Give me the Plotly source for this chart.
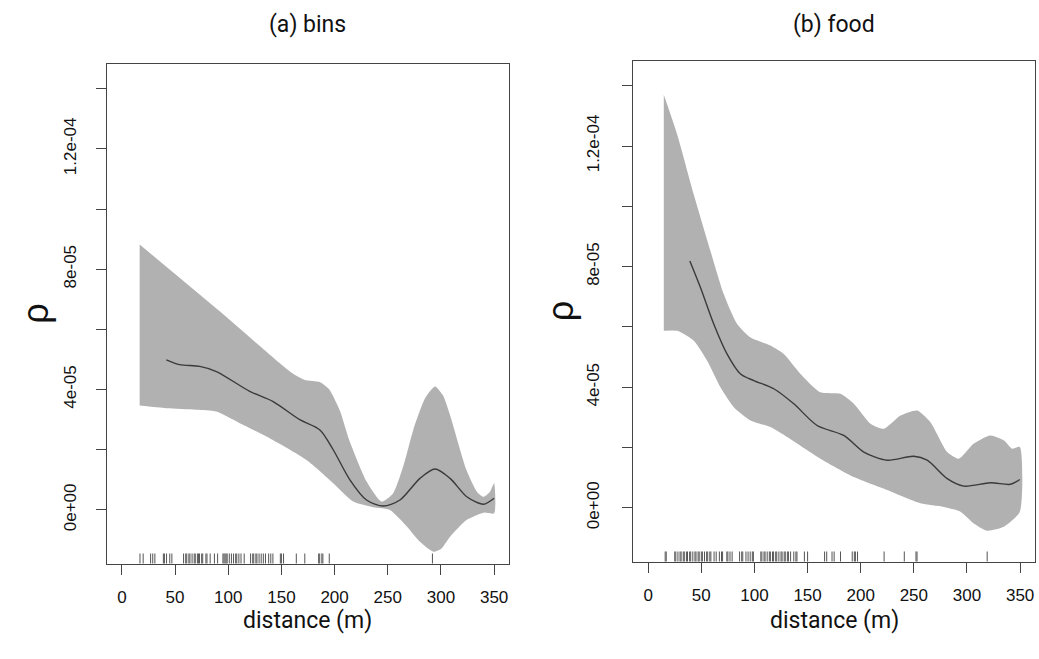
import plotly.graph_objects as go

# ---------------- data (x in metres, y in units of 1e-5) ----------------
SCALE = 1e-5

# panel (a) bins
a_upper_x = [16.7, 92, 160, 172, 186, 195, 205, 214, 230, 244, 255, 265, 274, 285, 294.4, 302, 309, 324, 334, 340, 346, 350]
a_upper_y = [8.82, 6.60, 4.55, 4.32, 4.25, 4.0, 3.3, 2.3, 0.95, 0.28, 0.55, 1.5, 2.66, 3.7, 4.10, 3.8, 3.1, 1.33, 0.6, 0.44, 0.6, 0.89]
a_lower_x = [16.7, 41.8, 70, 88.9, 110, 136, 173.6, 198.7, 217.5, 236.4, 252, 268, 280, 293, 300, 308.6, 324.3, 340, 350]
a_lower_y = [3.47, 3.38, 3.33, 3.27, 2.9, 2.44, 1.66, 0.89, 0.28, 0.09, 0.0, -0.55, -1.05, -1.39, -1.3, -0.89, -0.33, -0.09, -0.11]
a_mid_x = [41.8, 54.3, 73.2, 88.9, 120.2, 142.2, 167.3, 186.2, 198.7, 214.4, 230, 245.8, 261.5, 280.3, 294.4, 308.6, 324.3, 340, 350]
a_mid_y = [4.99, 4.83, 4.77, 4.60, 3.94, 3.60, 3.00, 2.66, 2.0, 1.0, 0.33, 0.13, 0.33, 1.05, 1.36, 1.05, 0.44, 0.19, 0.39]
a_rug = [17, 20, 27, 29, 31, 39, 40, 42, 45, 47, 58, 60, 61, 63, 64, 66, 68, 69, 71, 72, 73, 75, 76, 79, 80, 83,
         87, 90, 95, 96, 97, 98, 99, 101, 103, 105, 107, 108, 110, 112, 115, 121, 123, 124, 126, 127, 129, 131,
         133, 135, 138, 140, 142, 149, 150, 152, 164, 172, 185, 186, 188, 189, 195, 292]

# panel (b) food
b_upper_x = [14.7, 27.3, 42.9, 58.6, 71.1, 83.7, 96.3, 115.1, 127.6, 143.3, 162.1, 181, 193.5, 209.2, 221.7, 237.4, 253.1, 265.6, 281.4, 292.3, 306.4, 322.1, 334.6, 342.5, 349.7]
b_upper_y = [13.70, 12.38, 10.39, 8.52, 7.09, 6.10, 5.65, 5.38, 5.10, 4.44, 3.83, 3.78, 3.45, 2.79, 2.62, 3.06, 3.23, 2.84, 1.85, 1.63, 2.13, 2.40, 2.24, 1.96, 2.02]
b_lower_x = [14.7, 27.3, 42.9, 55.5, 68, 80.6, 96.3, 115.1, 130.8, 162.1, 193.5, 224.9, 256.2, 278.2, 293.9, 306.4, 319, 334.6, 349.7]
b_lower_y = [5.87, 5.87, 5.54, 4.88, 4.00, 3.34, 2.90, 2.68, 2.35, 1.63, 1.02, 0.59, 0.15, 0.03, -0.13, -0.52, -0.76, -0.63, -0.13]
b_mid_x = [39.2, 49.2, 61.7, 74.3, 86.9, 99.4, 118.2, 137, 159, 184.1, 202.9, 224.9, 249.9, 262.5, 281.4, 297, 322.1, 341, 349.7]
b_mid_y = [8.19, 7.31, 6.10, 5.10, 4.44, 4.22, 3.95, 3.45, 2.73, 2.40, 1.85, 1.58, 1.71, 1.58, 0.97, 0.72, 0.83, 0.78, 0.94]
b_rug = [16, 17, 25, 26, 28, 30, 31, 33, 34, 36, 37, 39, 40, 42, 44, 45, 47, 48, 50, 51, 53, 55, 56, 58, 59, 62,
         64, 67, 69, 70, 74, 75, 77, 79, 86, 88, 89, 92, 94, 96, 98, 99, 106, 107, 109, 110, 112, 114, 115, 117,
         118, 120, 121, 123, 125, 126, 128, 129, 131, 132, 134, 137, 139, 140, 147, 150, 166, 168, 173, 175, 181,
         192, 194, 195, 197, 222, 241, 252, 253, 319]

x_tickvals = [0, 50, 100, 150, 200, 250, 300, 350]
y_tickvals = [0, 2, 4, 6, 8, 10, 12, 14]
y_ticktext = ["0e+00", "", "4e-05", "", "8e-05", "", "1.2e-04", ""]
titles = ["(a) bins", "(b) food"]
x_title = "distance (m)"
y_title = "ρ"

# ---------------- styling ----------------
BAND = "#b1b1b1"
LINE = "#3a3a3a"
AXC = "#444444"
TICKFONT = dict(family="Liberation Sans, Arial, sans-serif", size=17, color="#111")
LABFONT = dict(family="Roboto, Lato, sans-serif", size=23, color="#111")

W, H = 1039, 659


def px(x):
    return x / W


def py(y):
    return 1 - y / H


panels = [
    dict(xd=[px(107), px(509)], yd=[py(563.5), py(64)],
         ux=a_upper_x, uy=a_upper_y, lx=a_lower_x, ly=a_lower_y, mx=a_mid_x, my=a_mid_y, rug=a_rug,
         rho_x=px(36), ystand=13),
    dict(xd=[px(633.3), px(1035)], yd=[py(561.5), py(61)],
         ux=b_upper_x, uy=b_upper_y, lx=b_lower_x, ly=b_lower_y, mx=b_mid_x, my=b_mid_y, rug=b_rug,
         rho_x=px(560), ystand=17),
]

fig = go.Figure()
shapes = []
annotations = []
for i, p in enumerate(panels):
    xa = "x" if i == 0 else "x2"
    ya = "y" if i == 0 else "y2"
    poly_x = list(p["ux"]) + list(reversed(p["lx"]))
    poly_y = [v * SCALE for v in p["uy"]] + [v * SCALE for v in reversed(p["ly"])]
    fig.add_trace(go.Scatter(x=poly_x, y=poly_y, mode="lines", fill="toself", fillcolor=BAND,
                             line=dict(width=0, color=BAND, shape="spline", smoothing=0.6),
                             hoverinfo="skip", showlegend=False, xaxis=xa, yaxis=ya))
    fig.add_trace(go.Scatter(x=p["mx"], y=[v * SCALE for v in p["my"]], mode="lines",
                             line=dict(width=1.4, color=LINE, shape="spline", smoothing=0.8),
                             showlegend=False, xaxis=xa, yaxis=ya))
    for r in p["rug"]:
        shapes.append(dict(type="line", xref=xa, yref=f"{ya} domain", x0=r, x1=r, y0=0, y1=0.02,
                           line=dict(color="#555", width=1)))
    cx = (p["xd"][0] + p["xd"][1]) / 2
    annotations.append(dict(text=titles[i], x=cx, y=py(25), xref="paper", yref="paper",
                            showarrow=False, font=LABFONT, xanchor="center", yanchor="middle"))
    annotations.append(dict(text=x_title, x=cx, y=py(620), xref="paper", yref="paper",
                            showarrow=False, font=LABFONT, xanchor="center", yanchor="middle"))
    annotations.append(dict(text=y_title, x=p["rho_x"], y=(p["yd"][0] + p["yd"][1]) / 2,
                            xref="paper", yref="paper", showarrow=False, textangle=-90,
                            font=dict(family="Liberation Sans, Arial, sans-serif", size=36, color="#111"),
                            xanchor="center", yanchor="middle"))

    axis_common = dict(showline=True, linecolor=AXC, linewidth=1, mirror=True, showgrid=False,
                       zeroline=False, ticks="outside", ticklen=10, tickcolor=AXC, tickwidth=1,
                       tickfont=TICKFONT)
    fig.update_layout(**{
        ("xaxis" if i == 0 else "xaxis2"): dict(domain=p["xd"], range=[-14, 364], tickvals=x_tickvals,
                                                anchor=ya, ticklabelstandoff=8, **axis_common),
        ("yaxis" if i == 0 else "yaxis2"): dict(domain=p["yd"], range=[-1.78 * SCALE, 14.82 * SCALE],
                                                tickvals=[v * SCALE for v in y_tickvals],
                                                ticktext=y_ticktext, tickangle=-90, anchor=xa,
                                                ticklabelstandoff=p["ystand"], **axis_common),
    })

fig.update_layout(width=W, height=H, margin=dict(l=0, r=0, t=0, b=0),
                  paper_bgcolor="white", plot_bgcolor="white",
                  shapes=shapes, annotations=annotations, showlegend=False)

fig.write_html(
    "out.html",
    config={"displayModeBar": False, "staticPlot": True},
    post_script="document.documentElement.style.overflow='hidden';"
                "document.body.style.margin='0';document.body.style.overflow='hidden';",
)
